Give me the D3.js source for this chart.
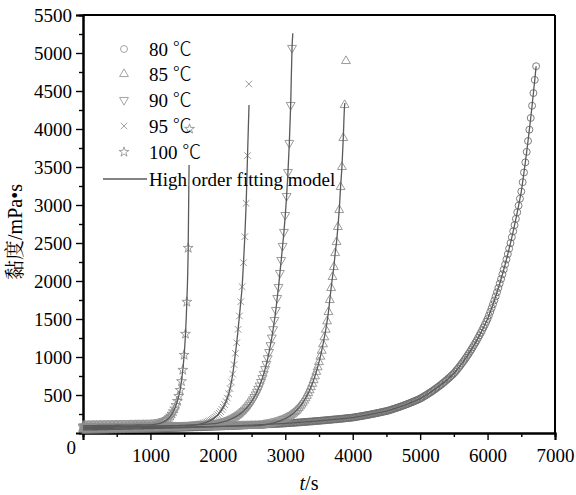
<!DOCTYPE html>
<html>
<head>
<meta charset="utf-8">
<script src="https://cdn.jsdelivr.net/npm/d3@7"></script>
<style>
  body { margin: 0; background: #fff; }
  .axis path, .axis line { stroke: #000; }
  .axis path { stroke-width: 2; }
  .axis line { stroke-width: 1.4; }
</style>
</head>
<body>
<svg id="chart" width="576" height="495"></svg>
<script>
// viscosity (mPa·s) sampled every 20 s, starting at t = 0
const T_STEP = 20

const v80 = [
  40, 40, 41, 41, 41, 42, 42, 42, 43, 43, 43, 43, 44, 44, 44, 45, 45, 45, 46, 46,
  47, 47, 47, 48, 48, 48, 49, 49, 49, 50, 50, 51, 51, 51, 52, 52, 52, 53, 53, 54,
  54, 54, 55, 55, 56, 56, 57, 57, 57, 58, 58, 59, 59, 60, 60, 61, 61, 61, 62, 62,
  63, 63, 64, 64, 65, 65, 66, 66, 67, 67, 68, 68, 69, 69, 70, 70, 71, 71, 72, 72,
  73, 73, 74, 75, 75, 76, 76, 77, 77, 78, 79, 79, 80, 80, 81, 82, 82, 83, 84, 84,
  85, 85, 86, 87, 87, 88, 89, 90, 90, 91, 92, 92, 93, 94, 95, 96, 96, 97, 98, 99,
  99, 100, 101, 102, 103, 104, 104, 105, 106, 107, 108, 109, 109, 110, 111, 112, 113, 114, 115, 116,
  117, 118, 119, 120, 120, 121, 122, 123, 124, 125, 126, 128, 129, 130, 131, 133, 134, 135, 136, 138,
  139, 140, 142, 143, 144, 146, 147, 149, 150, 151, 153, 154, 156, 157, 159, 160, 162, 163, 165, 166,
  168, 170, 171, 173, 175, 176, 178, 180, 181, 183, 185, 186, 188, 190, 192, 194, 196, 198, 199, 201,
  203, 206, 209, 212, 215, 218, 221, 224, 227, 230, 234, 237, 240, 244, 247, 251, 254, 258, 262, 265,
  269, 273, 277, 281, 285, 288, 293, 298, 304, 309, 316, 321, 327, 333, 339, 345, 351, 358, 364, 371,
  378, 385, 391, 399, 406, 413, 421, 428, 436, 444, 452, 462, 473, 483, 494, 505, 516, 528, 539, 551,
  564, 576, 589, 602, 615, 629, 643, 657, 672, 687, 702, 718, 734, 750, 767, 784, 804, 826, 847, 870,
  893, 916, 940, 965, 990, 1017, 1043, 1071, 1099, 1128, 1158, 1188, 1219, 1252, 1285, 1318, 1353, 1389, 1425, 1463,
  1501, 1547, 1594, 1643, 1693, 1744, 1797, 1852, 1908, 1966, 2026, 2088, 2151, 2217, 2284, 2354, 2426, 2499, 2576, 2654,
  2735, 2818, 2904, 2992, 3083, 3177, 3300, 3428, 3561, 3699, 3842, 3991, 4145, 4306, 4473, 4646, 4826
]

const v85 = [
  55, 55, 56, 56, 56, 57, 57, 57, 58, 58, 58, 58, 59, 59, 59, 60, 60, 60, 61, 61,
  61, 62, 62, 62, 63, 63, 63, 64, 64, 64, 64, 65, 65, 65, 66, 66, 66, 67, 67, 67,
  68, 68, 68, 69, 69, 69, 70, 70, 70, 71, 71, 71, 72, 72, 72, 72, 73, 73, 73, 74,
  74, 74, 75, 75, 75, 76, 76, 76, 77, 77, 77, 77, 78, 78, 78, 79, 79, 79, 80, 80,
  80, 81, 81, 81, 82, 82, 82, 83, 83, 83, 83, 84, 84, 84, 85, 85, 85, 86, 86, 86,
  87, 87, 87, 88, 88, 88, 89, 89, 89, 90, 90, 90, 91, 91, 91, 92, 92, 92, 93, 93,
  93, 93, 94, 94, 94, 95, 95, 95, 96, 96,
  96, 98, 100, 103, 106, 109, 112, 115, 119, 123, 127, 131, 136, 141, 147, 153, 159, 166, 173, 181,
  190, 199, 209, 220, 232, 245, 259, 275, 292, 310, 330, 352, 375, 400, 428, 458, 490, 525, 563, 604,
  648, 696, 748, 805, 866, 933, 1005, 1083, 1168, 1260, 1360, 1470, 1592, 1750, 1908, 2053, 2184, 2368, 2513, 2711,
  2934, 3237, 3500, 3882, 4316, 4895
]

const v90 = [
  68, 68, 69, 69, 69, 70, 70, 70, 71, 71, 71, 72, 72, 72, 73, 73, 73, 74, 74, 74,
  75, 75, 75, 76, 76, 76, 77, 77, 77, 78, 78, 78, 79, 79, 79, 80, 80, 80, 81, 81,
  82, 82, 82, 83, 83, 83, 84, 84, 84, 85, 85, 86, 86, 87, 87, 88, 89, 89, 90, 90,
  91, 92, 92, 93, 93, 94, 95, 95, 96, 96, 97, 98, 99, 99, 100, 101, 102, 103, 103, 104,
  105, 106, 107, 107, 108, 109, 110, 111, 111, 112, 113, 115, 116, 118, 119, 121, 122, 124, 125, 127,
  130, 134, 138, 142, 147, 152, 158, 164, 170, 177, 185, 193, 202, 212, 222, 233, 245, 258, 272, 288,
  305, 323, 343, 365, 389, 415, 443, 473, 506, 542, 581, 624, 671, 722, 778, 840, 908, 983, 1065, 1155,
  1255, 1365, 1487, 1618, 1776, 1921, 2105, 2276, 2461, 2645, 2868, 3118, 3434, 3816, 4316, 5066
]

const v95 = [
  80, 80, 80, 81, 81, 81, 81, 82, 82, 82, 82, 83, 83, 83, 83, 84, 84, 84, 84, 85,
  85, 85, 85, 86, 86, 86, 86, 86, 87, 87, 87, 87, 88, 88, 88, 88, 89, 89, 89, 89,
  90, 90, 90, 90, 91, 91, 91, 91, 92, 92, 92, 92, 92, 93, 93, 93, 93, 94, 94, 94,
  94, 95, 95, 95, 95, 96, 96, 96, 96, 97, 97, 97, 97, 98, 98, 98, 98, 98, 99, 99,
  99, 101, 103, 105, 108, 111, 115, 119, 123, 128, 133, 139, 145, 152, 160, 169, 180, 192, 206, 222,
  240, 260, 283, 310, 340, 375, 415, 460, 515, 585, 670, 775, 900, 1048, 1188, 1364, 1540, 1728, 1925, 2241,
  2583, 3022, 3650, 4592
]

const v100 = [
  96, 96, 96, 97, 97, 97, 97, 98, 98, 98, 98, 99, 99, 99, 99, 100, 100, 100, 100, 100,
  101, 101, 101, 101, 102, 102, 102, 102, 102, 103, 103, 103, 103, 103, 104, 104, 104, 104, 104, 105,
  105, 105, 105, 105, 106, 106, 106, 106, 106, 107,
  107, 109, 111, 113, 116, 119, 123, 128, 134, 141, 150, 160, 172, 187, 205, 226, 252, 283, 320, 365,
  420, 485, 565, 680, 829, 1026, 1303, 1724, 2434, 4000
]

// where each fitted curve ends [t, viscosity]
const fit80 = [6720, 4826]
const fit85 = [3884, 4342]
const fit90 = [3112, 5260]
const fit95 = [2462, 4316]
const fit100 = [1573, 3526]

const seriesTemps = ['80', '85', '90', '95', '100']
const xTicks = [1000, 2000, 3000, 4000, 5000, 6000, 7000]
const yTicks = [500, 1000, 1500, 2000, 2500, 3000, 3500, 4000, 4500, 5000, 5500]

const SERIF = "'Liberation Serif', 'DejaVu Serif', 'Times New Roman', serif"
const CJK = "'Noto Sans CJK SC', 'Noto Sans CJK JP', sans-serif"

const symTimes = d3.symbolTimes || d3.symbolX
const series = [
  { name: seriesTemps[0], values: v80, fit: fit80, symbol: d3.symbolCircle, size: 38, rot: 0, color: '#6e6e6e' },
  { name: seriesTemps[1], values: v85, fit: fit85, symbol: d3.symbolTriangle, size: 34, rot: 0, color: '#8f8f8f' },
  { name: seriesTemps[2], values: v90, fit: fit90, symbol: d3.symbolTriangle, size: 34, rot: 180, color: '#8f8f8f' },
  { name: seriesTemps[3], values: v95, fit: fit95, symbol: symTimes, size: 30, rot: 0, color: '#8f8f8f' },
  { name: seriesTemps[4], values: v100, fit: fit100, symbol: d3.symbolStar, size: 30, rot: 0, color: '#8f8f8f' }
]

const margin = { top: 15, right: 21, bottom: 62, left: 83 }
const svg = d3.select('#chart').attr('font-family', SERIF)
const width = 576 - margin.left - margin.right
const height = 495 - margin.top - margin.bottom
const g = svg.append('g').attr('transform', `translate(${margin.left}, ${margin.top})`)

const x = d3.scaleLinear().domain([0, 7000]).range([0, width])
const y = d3.scaleLinear().domain([0, 5500]).range([height, 0])

function styleAxis (sel) {
  sel.attr('font-family', SERIF).attr('font-size', 19)
  sel.selectAll('text').attr('fill', '#000')
}

// minor ticks
g.append('g')
  .attr('class', 'axis')
  .attr('transform', `translate(0, ${height})`)
  .call(d3.axisBottom(x).tickValues(d3.range(500, 7000, 1000)).tickSize(4).tickFormat(''))
g.append('g')
  .attr('class', 'axis')
  .call(d3.axisLeft(y).tickValues(d3.range(250, 5500, 500)).tickSize(4).tickFormat(''))

// major ticks
g.append('g')
  .attr('class', 'axis')
  .attr('transform', `translate(0, ${height})`)
  .call(d3.axisBottom(x).tickValues([0].concat(xTicks)).tickSize(7).tickPadding(9)
    .tickFormat(d => d === 0 ? '' : d3.format('d')(d)))
  .call(styleAxis)
g.append('g')
  .attr('class', 'axis')
  .call(d3.axisLeft(y).tickValues(yTicks).tickSize(7).tickPadding(4).tickFormat(d3.format('d')))
  .call(styleAxis)

// frame top / right
g.append('line').attr('x1', 0).attr('x2', width).attr('y1', 0).attr('y2', 0)
  .attr('stroke', '#000').attr('stroke-width', 2)
g.append('line').attr('x1', width).attr('x2', width).attr('y1', 0).attr('y2', height)
  .attr('stroke', '#000').attr('stroke-width', 2)

g.append('text')
  .attr('x', -7)
  .attr('y', height + 21)
  .attr('text-anchor', 'end')
  .attr('font-size', 19)
  .text('0')

const line = d3.line()
  .x(d => x(d.t))
  .y(d => y(d.v))
  .curve(d3.curveMonotoneX)

series.forEach(s => {
  const pts = s.values.map((v, i) => ({ t: i * T_STEP, v: v }))
  s.pts = pts
  s.linePts = pts.filter(p => p.t < s.fit[0] && p.v <= s.fit[1]).concat([{ t: s.fit[0], v: s.fit[1] }])
})

series.forEach(s => {
  g.append('g')
    .selectAll('path')
    .data(s.pts)
    .enter()
    .append('path')
    .attr('transform', d => `translate(${x(d.t)}, ${y(d.v)}) rotate(${s.rot})`)
    .attr('d', d3.symbol(s.symbol, s.size))
    .attr('fill', 'none')
    .attr('stroke', s.color)
    .attr('stroke-width', 0.9)
})

series.forEach(s => {
  g.append('path')
    .datum(s.linePts)
    .attr('d', line)
    .attr('fill', 'none')
    .attr('stroke', '#5a5a5a')
    .attr('stroke-width', 1.3)
})

// legend
const legend = svg.append('g').attr('class', 'legend').attr('font-size', 19)
const rowY = [49, 74, 100, 126, 152]
series.forEach((s, i) => {
  legend.append('path')
    .attr('transform', `translate(124, ${rowY[i]}) rotate(${s.rot})`)
    .attr('d', d3.symbol(s.symbol, s.size))
    .attr('fill', 'none')
    .attr('stroke', '#999')
    .attr('stroke-width', 0.9)
  const t = legend.append('text')
    .attr('x', 149)
    .attr('y', rowY[i])
    .attr('dy', '0.35em')
  t.append('tspan').text(s.name + ' ')
  t.append('tspan').attr('font-family', CJK).attr('font-weight', 300).text('℃')
})
legend.append('line')
  .attr('x1', 103).attr('x2', 147).attr('y1', 179).attr('y2', 179)
  .attr('stroke', '#5a5a5a').attr('stroke-width', 1.3)
legend.append('text')
  .attr('x', 149)
  .attr('y', 179)
  .attr('dy', '0.35em')
  .text('High order fitting model')

// axis titles
const yt = svg.append('text')
  .attr('transform', 'translate(22, 232) rotate(-90)')
  .attr('text-anchor', 'middle')
  .attr('font-size', 20)
yt.append('tspan').attr('font-family', "'Noto Serif CJK SC', " + CJK).text('黏度')
yt.append('tspan').text('/mPa•s')

const xt = svg.append('text')
  .attr('x', 309)
  .attr('y', 490)
  .attr('text-anchor', 'middle')
  .attr('font-size', 20)
xt.append('tspan').attr('font-style', 'italic').text('t')
xt.append('tspan').text('/s')
</script>
</body>
</html>
